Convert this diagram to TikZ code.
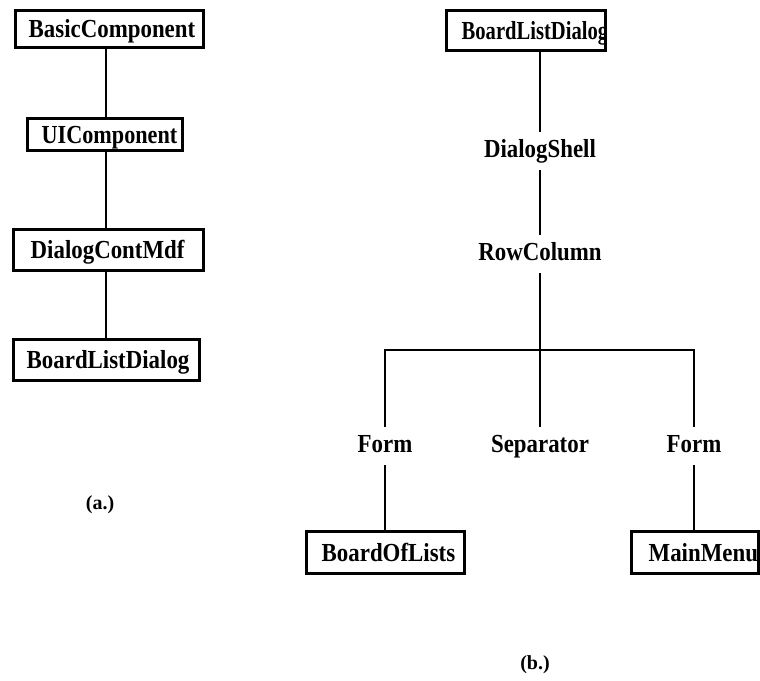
\documentclass[tikz,border=0pt]{standalone}
\usepackage{fontspec}
\setmainfont{Liberation Serif}
\newfontfamily\condserif[FakeStretch=0.88]{Liberation Serif}
% name of a class box, set from the left edge and clipped to the frame
\newcommand\clippedname[4]{%
  \begin{scope}
    \clip (#1.south west) rectangle (#1.north east);
    \node[namefont, anchor=base west, inner sep=0pt] (#1-t)
      at ([xshift=#2pt, yshift=-9pt]#1.west) {\scalebox{#3}[1]{#4}};
  \end{scope}}
\begin{document}
\begin{tikzpicture}[x=1pt,y=-1pt,
  namefont/.style={font={\fontsize{26}{30}\selectfont\condserif\bfseries}},
  cls/.style={draw, line width=3pt, inner sep=0pt},
  lbl/.style={namefont, inner xsep=0pt, inner ysep=8pt, text height=17pt, text depth=5pt, anchor=base},
  sublabel/.style={font={\fontsize{20}{23}\selectfont\bfseries}, inner sep=0pt},
  link/.style={line width=2pt}]
\useasboundingbox (0,0) rectangle (760,680);

% (a.) class hierarchy
\coordinate (axa) at (106,0);
\node[cls, minimum width=188, minimum height=37] (bc) at (109,28.5) {};
\node[cls, minimum width=155, minimum height=32] (uic) at (104.5,134) {};
\node[cls, minimum width=190, minimum height=41] (dcm) at (108,249.5) {};
\node[cls, minimum width=186, minimum height=41] (blda) at (106,359.5) {};
\clippedname{bc}{15}{1}{BasicComponent}
\clippedname{uic}{16}{0.97}{UIComponent}
\clippedname{dcm}{19}{1}{DialogContMdf}
\clippedname{blda}{15}{1}{BoardListDialog}
\draw[link] (bc.south -| axa) -- (uic.north -| axa);
\draw[link] (uic.south -| axa) -- (dcm.north -| axa);
\draw[link] (dcm.south -| axa) -- (blda.north -| axa);
\node[sublabel] (capa) at (100,505) {(a.)};

% (b.) widget tree
\node[cls, minimum width=159, minimum height=40] (bldb) at (525.5,30) {};
\clippedname{bldb}{17}{0.9}{BoardListDialog}
\node[lbl] (ds) at (540,157) {DialogShell};
\node[lbl] (rc) at (540,260) {RowColumn};
\coordinate (bus) at (540,350);
\node[lbl] (fa) at (385,452) {Form};
\node[lbl] (sep) at (540,452) {Separator};
\node[lbl] (fb) at (694,452) {Form};
\node[cls, minimum width=158, minimum height=42] (bol) at (385,552) {};
\node[cls, minimum width=127, minimum height=42] (mm) at (694.5,552) {};
\clippedname{bol}{17}{1}{BoardOfLists}
\clippedname{mm}{19}{1}{MainMenu}

\draw[link] (bldb.south -| ds) -- (ds.north);
\draw[link] (ds.south) -- (rc.north);
\draw[link] (rc.south) -- (bus);
\draw[link] (fa.north) -- (fa.north |- bus) -- (fb.north |- bus) -- (fb.north);
\draw[link] (sep.north) -- (bus);
\draw[link] (fa.south) -- (fa.south |- bol.north);
\draw[link] (fb.south) -- (fb.south |- mm.north);
\node[sublabel] (capb) at (535,665) {(b.)};
\end{tikzpicture}
\end{document}
